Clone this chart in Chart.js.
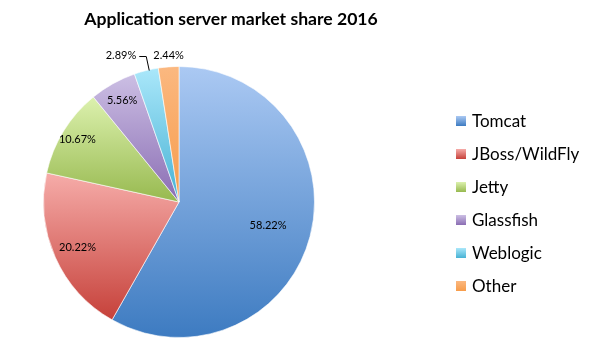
<!DOCTYPE html>
<html>
<head>
<meta charset="utf-8">
<script src="https://cdn.jsdelivr.net/npm/chart.js@4"></script>
<style>
  html, body { margin: 0; padding: 0; background: #fff; }
  #wrap { width: 600px; height: 353px; }
</style>
</head>
<body>
<div id="wrap"><canvas id="shareChart" width="600" height="353"></canvas></div>
<script>
// data
var servers = ["Tomcat", "JBoss/WildFly", "Jetty", "Glassfish", "Weblogic", "Other"];
var shares = [58.22, 20.22, 10.67, 5.56, 2.89, 2.44];
var shareLabels = ["58.22%", "20.22%", "10.67%", "5.56%", "2.89%", "2.44%"];
var chartTitle = "Application server market share 2016";

// light (top) / dark (bottom) colour of each slice
var topColors = ['#abc9f3', '#f6aca9', '#dcf1ae', '#ccbfe4', '#aae7fa', '#fbb880'];
var bottomColors = ['#3d7bc1', '#c6413a', '#97b94f', '#8a6db3', '#47b2d4', '#f79c4a'];
// radial position of the inside labels, as a fraction of the radius
var labelRadius = [0.68, 0.82, 0.88, 0.86, null, null];

// vertical extent of a pie slice, for the gradient
function sliceBounds(arc) {
  var a0 = arc.startAngle, a1 = arc.endAngle, r = arc.outerRadius;
  var ys = [arc.y, arc.y + r * Math.sin(a0), arc.y + r * Math.sin(a1)];
  [-Math.PI / 2, Math.PI / 2, 3 * Math.PI / 2].forEach(function (a) {
    if (a > a0 && a < a1) ys.push(arc.y + r * Math.sin(a));
  });
  return [Math.min.apply(null, ys), Math.max.apply(null, ys)];
}

var sliceGradients = {
  id: 'sliceGradients',
  beforeDatasetsDraw: function (chart) {
    var c = chart.ctx;
    chart.getDatasetMeta(0).data.forEach(function (arc, i) {
      var b = sliceBounds(arc);
      var g = c.createLinearGradient(0, b[0], 0, b[1]);
      g.addColorStop(0, topColors[i]);
      g.addColorStop(1, bottomColors[i]);
      arc.options.backgroundColor = g;
    });
  }
};

var extras = {
  id: 'extras',
  afterDatasetsDraw: function (chart) {
    var c = chart.ctx;
    var meta = chart.getDatasetMeta(0);
    c.save();
    c.fillStyle = '#000';
    c.textBaseline = 'middle';

    // title
    c.font = 'bold 17.6px Lato';
    c.textAlign = 'center';
    c.fillText(chartTitle, 231, 19);

    // slice labels
    c.font = '11px Lato';
    meta.data.forEach(function (arc, i) {
      var mid = (arc.startAngle + arc.endAngle) / 2;
      var r = arc.outerRadius;
      if (labelRadius[i] !== null) {
        c.textAlign = 'center';
        c.fillText(shareLabels[i], arc.x + Math.cos(mid) * r * labelRadius[i], arc.y + Math.sin(mid) * r * labelRadius[i]);
      } else if (i === 4) {
        var ex = arc.x + Math.cos(mid) * r, ey = arc.y + Math.sin(mid) * r;
        c.strokeStyle = '#000';
        c.lineWidth = 1;
        c.beginPath();
        c.moveTo(ex + 3, ey);
        c.lineTo(ex, ey - 14);
        c.lineTo(ex - 7, ey - 14);
        c.stroke();
        c.textAlign = 'right';
        c.fillText(shareLabels[i], ex - 10, ey - 15);
      } else {
        var ox = arc.x + Math.cos(mid) * r;
        c.textAlign = 'center';
        c.fillText(shareLabels[i], ox, arc.y - r - 11);
      }
    });

    // legend
    c.font = '17px Lato';
    c.textAlign = 'left';
    servers.forEach(function (name, i) {
      var y = 121 + i * 33;
      var g = c.createLinearGradient(0, y - 5, 0, y + 5);
      g.addColorStop(0, topColors[i]);
      g.addColorStop(1, bottomColors[i]);
      c.fillStyle = g;
      c.fillRect(456, y - 5, 10, 10);
      c.fillStyle = '#000';
      c.fillText(name, 472, y + 1);
    });
    c.restore();
  }
};

var ctx = document.getElementById('shareChart').getContext('2d');
var shareChart = new Chart(ctx, {
  type: 'pie',
  data: {
    labels: servers,
    datasets: [{
      data: shares,
      backgroundColor: topColors,
      borderColor: 'rgba(255,255,255,0.6)',
      borderWidth: 1
    }]
  },
  options: {
    responsive: false,
    animation: false,
    layout: { padding: { left: 43, right: 285, top: 66, bottom: 15 } },
    plugins: {
      legend: { display: false },
      title: { display: false },
      tooltip: { enabled: false }
    }
  },
  plugins: [sliceGradients, extras]
});
</script>
</body>
</html>
